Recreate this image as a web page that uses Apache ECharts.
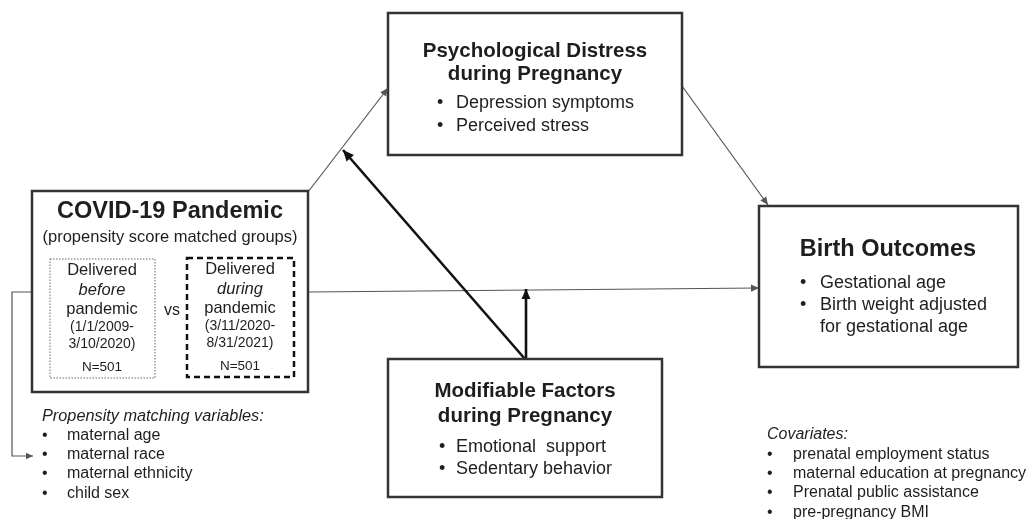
<!DOCTYPE html>
<html>
<head>
<meta charset="utf-8">
<script src="https://cdn.jsdelivr.net/npm/echarts@6/dist/echarts.min.js"></script>
<style>
  html, body { margin: 0; padding: 0; background: #fff; }
  #chart { width: 1032px; height: 519px; }
</style>
</head>
<body>
<div id="chart"></div>
<script>
// texts of the diagram
const covidTitle = ['COVID-19 Pandemic', '(propensity score matched groups)'];
const beforeLines = ['Delivered', 'before', 'pandemic', '(1/1/2009-', '3/10/2020)', 'N=501'];
const duringLines = ['Delivered', 'during', 'pandemic', '(3/11/2020-', '8/31/2021)', 'N=501'];
const psychTitle = ['Psychological Distress', 'during Pregnancy'];
const psychItems = ['Depression symptoms', 'Perceived stress'];
const birthTitle = ['Birth Outcomes'];
const birthItems = ['Gestational age', 'Birth weight adjusted', 'for gestational age'];
const modTitle = ['Modifiable Factors', 'during Pregnancy'];
const modItems = ['Emotional  support', 'Sedentary behavior'];
const matchTitle = ['Propensity matching variables:'];
const matchItems = ['maternal age', 'maternal race', 'maternal ethnicity', 'child sex'];
const covTitle = ['Covariates:'];
const covItems = ['prenatal employment status', 'maternal education at pregnancy', 'Prenatal public assistance', 'pre-pregnancy BMI'];

const FONT = '"Liberation Sans", Arial, sans-serif';
const INK = '#1e1e1e';

const chart = echarts.init(document.getElementById('chart'));

function txt(x, y, s, size, o) {
    o = o || {};
    const a = o.align || 'center';
    return {
        type: 'text', silent: true, z: 10,
        style: {
            text: s, x: x, y: y,
            fontFamily: FONT, fontSize: size,
            fontWeight: o.bold ? 'bold' : 'normal',
            fontStyle: o.italic ? 'italic' : 'normal',
            fill: INK,
            align: a, textAlign: a,
            verticalAlign: 'middle', textVerticalAlign: 'middle'
        }
    };
}

function box(x1, y1, x2, y2, w, dash, color) {
    return {
        type: 'rect', silent: true, z: 5,
        shape: { x: x1, y: y1, width: x2 - x1, height: y2 - y1 },
        style: { fill: '#fff', stroke: color || '#333', lineWidth: w, lineDash: dash || null }
    };
}

function arrow(pts, w, color, head) {
    const out = [{
        type: 'polyline', silent: true, z: 4,
        shape: { points: pts },
        style: { stroke: color, lineWidth: w, fill: null }
    }];
    const p1 = pts[pts.length - 2], p2 = pts[pts.length - 1];
    const ang = Math.atan2(p2[1] - p1[1], p2[0] - p1[0]);
    const hw = head * 0.45;
    const bx = p2[0] - head * Math.cos(ang), by = p2[1] - head * Math.sin(ang);
    out.push({
        type: 'polygon', silent: true, z: 6,
        shape: { points: [
            p2,
            [bx + hw * Math.sin(ang), by - hw * Math.cos(ang)],
            [bx - hw * Math.sin(ang), by + hw * Math.cos(ang)]
        ] },
        style: { fill: color }
    });
    return out;
}

function bullets(xb, xt, ys, items, size, o) {
    const out = [];
    items.forEach((s, i) => {
        if (!(o && o.noBullet && o.noBullet.indexOf(i) >= 0)) {
            out.push(txt(xb, ys[i], '•', size, { align: 'left' }));
        }
        out.push(txt(xt, ys[i], s, size, { align: 'left' }));
    });
    return out;
}

const els = [];

// arrows (behind boxes)
els.push(...arrow([[308, 192], [388, 88]], 1.2, '#555', 8));
els.push(...arrow([[682, 86], [768, 205]], 1.2, '#555', 8));
els.push(...arrow([[308, 292], [759, 288]], 1.2, '#555', 8));
els.push(...arrow([[525, 359], [343, 150]], 2.6, '#111', 11));
els.push(...arrow([[526, 359], [526, 289]], 2.6, '#111', 10));
els.push(...arrow([[32, 292], [12, 292], [12, 456], [33, 456]], 1.2, '#555', 7));

// COVID box
els.push(box(32, 191, 308, 392, 2.5));
els.push(txt(170, 212, covidTitle[0], 23.5, { bold: true }));
els.push(txt(170, 237, covidTitle[1], 16.5));
els.push(box(50, 259, 155, 378, 1, [1.5, 1.5], '#666'));
els.push(box(187, 258, 294, 377, 2.5, [6, 4], '#111'));
const innerY = [270, 290, 309, 327, 344, 367];
const innerSize = [16.5, 16.5, 16.5, 14, 14, 13.5];
beforeLines.forEach((s, i) => els.push(txt(102, innerY[i], s, innerSize[i], { italic: i === 1 })));
duringLines.forEach((s, i) => els.push(txt(240, innerY[i] - 1, s, innerSize[i], { italic: i === 1 })));
els.push(txt(172, 311, 'vs', 16));

// Psychological distress box
els.push(box(388, 13, 682, 155, 2.5));
els.push(txt(535, 51, psychTitle[0], 20.5, { bold: true }));
els.push(txt(535, 74, psychTitle[1], 20.5, { bold: true }));
els.push(...bullets(437, 456, [103, 126], psychItems, 18));

// Birth outcomes box
els.push(box(759, 206, 1018, 367, 2.5));
els.push(txt(888, 250, birthTitle[0], 23.5, { bold: true }));
els.push(...bullets(800, 820, [283, 305, 327], birthItems, 18, { noBullet: [2] }));

// Modifiable factors box
els.push(box(388, 359, 662, 497, 2.5));
els.push(txt(525, 391, modTitle[0], 20.5, { bold: true }));
els.push(txt(525, 416, modTitle[1], 20.5, { bold: true }));
els.push(...bullets(439, 456, [447, 469], modItems, 18));

// propensity matching variables
els.push(txt(42, 416, matchTitle[0], 16.3, { italic: true, align: 'left' }));
els.push(...bullets(42, 67, [436, 455, 474, 494], matchItems, 16));

// covariates
els.push(txt(767, 435, covTitle[0], 16, { italic: true, align: 'left' }));
els.push(...bullets(767, 793, [455, 474, 493, 513], covItems, 16));

chart.setOption({
    backgroundColor: '#fff',
    animation: false,
    graphic: { elements: els }
});

window.addEventListener('resize', () => chart.resize());
</script>
</body>
</html>
